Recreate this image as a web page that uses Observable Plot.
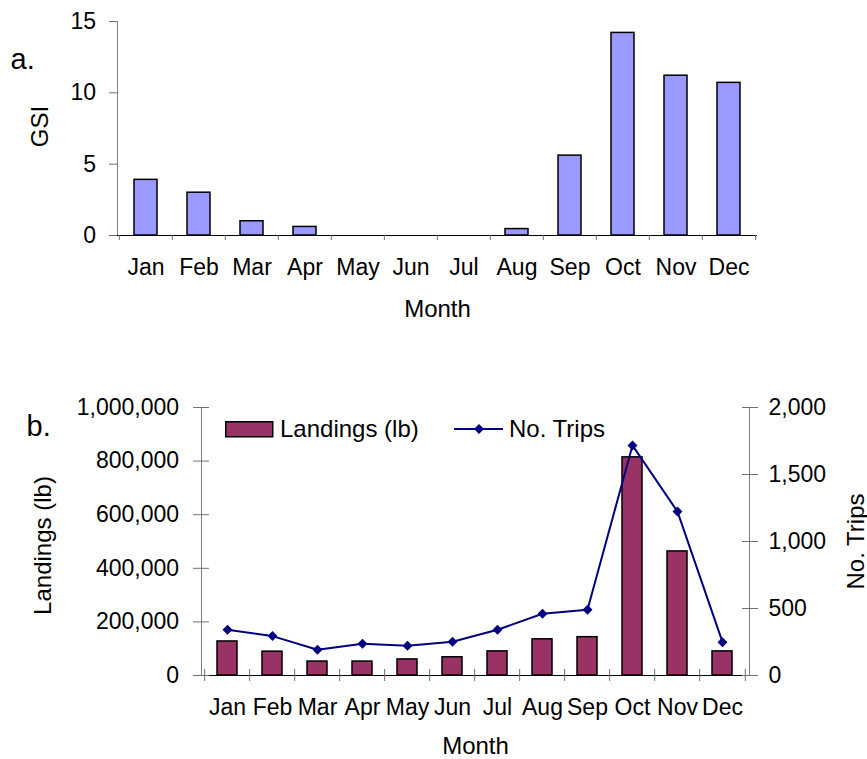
<!DOCTYPE html>
<html><head><meta charset="utf-8">
<script src="https://cdn.jsdelivr.net/npm/d3@7"></script>
<script src="https://cdn.jsdelivr.net/npm/@observablehq/plot@0.6"></script>
<style>
html,body{margin:0;padding:0;background:#fff;}
#wrap{position:relative;width:867px;height:759px;font-family:"Liberation Sans",Arial,sans-serif;}
#wrap svg{display:block;}
#legend{position:absolute;left:0;top:0;pointer-events:none;}
</style></head><body><div id="wrap"></div>
<script>
const months = ["Jan","Feb","Mar","Apr","May","Jun","Jul","Aug","Sep","Oct","Nov","Dec"];
const gsi = [3.9, 3.0, 1.0, 0.6, 0, 0, 0, 0.45, 5.6, 14.2, 11.2, 10.7];
const landings = [127000, 89000, 52000, 52000, 60000, 68000, 90000, 135000, 143000, 814000, 463000, 90000];
const trips = [341, 294, 192, 237, 222, 252, 341, 461, 491, 1717, 1223, 249];
const gsiTicks = [0, 5, 10, 15];
const landTicks = [0, 200000, 400000, 600000, 800000, 1000000];
const tripTicks = [0, 500, 1000, 1500, 2000];

const gsiData = months.map((m, i) => ({m, v: gsi[i]}));
const bData = months.map((m, i) => ({m, land: landings[i], trips: trips[i]}));

const W = 867;
const FONT = "'Liberation Sans', Arial, sans-serif";
const wrap = document.getElementById("wrap");
const fmt = d3.format(",");

// ---------- top chart ----------
const tm = {top: 21, right: 110, bottom: 105, left: 117};
const topH = 340;
const stepTop = (W - tm.left - tm.right) / months.length;
const topChart = Plot.plot({
  width: W, height: topH,
  marginTop: tm.top, marginRight: tm.right, marginBottom: tm.bottom, marginLeft: tm.left,
  style: {fontFamily: FONT, fontSize: "23px", background: "white", color: "black", overflow: "visible"},
  x: {domain: months, paddingInner: 0.575, paddingOuter: 0.2875, align: 0.5, label: null},
  y: {domain: [0, 15], label: null},
  marks: [
    Plot.barY(gsiData.filter(d => d.v > 0), {x: "m", y: "v", fill: "#9999FF", stroke: "#000", strokeWidth: 1.5}),
    Plot.frame({anchor: "left", stroke: "#808080"}),
    Plot.ruleY([0], {stroke: "#000"}),
    Plot.axisY(gsiTicks, {y: d => d, tickSize: 8, tickFormat: () => "", stroke: "#707070", label: null}),
    Plot.axisY(gsiTicks, {y: d => d, tickSize: 0, tickPadding: 21.5, tickFormat: d => String(d), label: null}),
    Plot.axisX(months, {x: d => d, tickSize: 5, dx: -stepTop / 2, tickFormat: () => "", stroke: "#707070", label: null}),
    Plot.axisX([months[11]], {x: d => d, tickSize: 5, dx: stepTop / 2, tickFormat: () => "", stroke: "#707070", label: null}),
    Plot.axisX(months, {x: d => d, tickSize: 0, tickPadding: 22.7, label: null}),
    Plot.text(["Month"], {text: d => d, frameAnchor: "bottom", textAnchor: "middle", lineAnchor: "top", dy: 64, fontSize: 24}),
    Plot.text(["GSI"], {text: d => d, frameAnchor: "left", textAnchor: "middle", rotate: -90, lineAnchor: "top", dx: -87, dy: -2, fontSize: 24}),
    Plot.text(["a."], {text: d => d, frameAnchor: "top-left", lineAnchor: "bottom", textAnchor: "start", dx: -107, dy: 47, fontSize: 29})
  ]
});
wrap.appendChild(topChart);

// ---------- bottom chart ----------
const bm = {top: 67, right: 118, bottom: 84, left: 201};
const botH = 419;
const k = landTicks[landTicks.length - 1] / tripTicks[tripTicks.length - 1];
const stepBot = (W - bm.left - bm.right) / months.length;
const botChart = Plot.plot({
  width: W, height: botH,
  marginTop: bm.top, marginRight: bm.right, marginBottom: bm.bottom, marginLeft: bm.left,
  style: {fontFamily: FONT, fontSize: "23px", background: "white", color: "black", overflow: "visible"},
  x: {domain: months, paddingInner: 0.55, paddingOuter: 0.275, align: 0.5, label: null},
  y: {domain: [0, 1000000], label: null},
  marks: [
    Plot.barY(bData, {x: "m", y: "land", fill: "#993366", stroke: "#000", strokeWidth: 1.5}),
    Plot.frame({anchor: "left", stroke: "#808080"}),
    Plot.frame({anchor: "right", stroke: "#808080"}),
    Plot.ruleY([0], {stroke: "#000"}),
    Plot.line(bData, {x: "m", y: d => d.trips * k, stroke: "#000080", strokeWidth: 2}),
    Plot.dot(bData, {x: "m", y: d => d.trips * k, symbol: "diamond2", r: 4.5, fill: "#000080", stroke: "none"}),
    Plot.axisY(landTicks, {y: d => d, tickSize: 16, dx: 8, tickFormat: () => "", stroke: "#707070", label: null}),
    Plot.axisY(landTicks, {y: d => d, tickSize: 0, tickPadding: 22.4, tickFormat: fmt, label: null}),
    Plot.axisY(tripTicks, {anchor: "right", y: d => d * k, tickSize: 16, dx: -8, tickFormat: () => "", stroke: "#707070", label: null}),
    Plot.axisY(tripTicks, {anchor: "right", y: d => d * k, tickSize: 0, tickPadding: 19, tickFormat: fmt, label: null}),
    Plot.axisX(months, {x: d => d, tickSize: 12, dy: -6, dx: -stepBot / 2, tickFormat: () => "", stroke: "#707070", label: null}),
    Plot.axisX([months[11]], {x: d => d, tickSize: 12, dy: -6, dx: stepBot / 2, tickFormat: () => "", stroke: "#707070", label: null}),
    Plot.axisX(months, {x: d => d, tickSize: 0, tickPadding: 22.7, label: null}),
    Plot.text(["Month"], {text: d => d, frameAnchor: "bottom", textAnchor: "middle", lineAnchor: "top", dy: 61, fontSize: 24}),
    Plot.text(["Landings (lb)"], {text: d => d, frameAnchor: "left", textAnchor: "middle", rotate: -90, lineAnchor: "top", dx: -168, dy: 4, fontSize: 24}),
    Plot.text(["No. Trips"], {text: d => d, frameAnchor: "right", textAnchor: "middle", rotate: -90, lineAnchor: "top", dx: 97, fontSize: 24}),
    Plot.text(["b."], {text: d => d, frameAnchor: "top-left", lineAnchor: "bottom", textAnchor: "start", dx: -175, dy: 28, fontSize: 29})
  ]
});
wrap.appendChild(botChart);

// ---------- legend (overlay) ----------
const leg = d3.create("svg").attr("id", "legend").attr("width", W).attr("height", 759)
  .style("font-family", FONT).style("font-size", "24px");
leg.append("rect").attr("x", 225.75).attr("y", 421.75).attr("width", 47).attr("height", 15)
  .attr("fill", "#993366").attr("stroke", "#000").attr("stroke-width", 1.5);
leg.append("text").attr("x", 280).attr("y", 436.5).attr("fill", "#000").text("Landings (lb)");
leg.append("line").attr("x1", 454).attr("x2", 503).attr("y1", 429).attr("y2", 429)
  .attr("stroke", "#000080").attr("stroke-width", 2);
leg.append("path").attr("d", "M479,424L484,429L479,434L474,429Z").attr("fill", "#000080");
leg.append("text").attr("x", 509).attr("y", 436.5).attr("fill", "#000").text("No. Trips");
wrap.appendChild(leg.node());
</script></body></html>
